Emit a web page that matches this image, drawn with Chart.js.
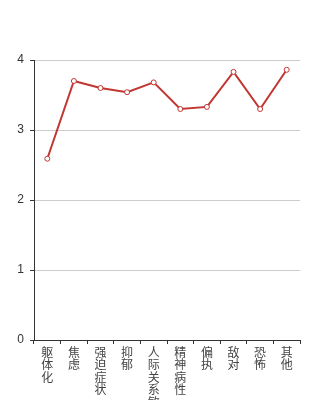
<!DOCTYPE html>
<html lang="zh">
<head>
<meta charset="utf-8">
<script src="https://cdn.jsdelivr.net/npm/chart.js@4/dist/chart.umd.min.js"></script>
<style>
  html, body { margin: 0; padding: 0; background: #fff; overflow: hidden; }
  #wrap { width: 334px; height: 400px; }
</style>
</head>
<body>
<div id="wrap"><canvas id="chart"></canvas></div>
<script>
"use strict";

// categories (SCL-90 factors) and mean scores
var categories = ['躯体化', '焦虑', '强迫症状', '抑郁', '人际关系敏感', '精神病性', '偏执', '敌对', '恐怖', '其他'];
var scores = [2.59, 3.70, 3.60, 3.54, 3.68, 3.30, 3.33, 3.83, 3.30, 3.86];
var yTicks = [0, 1, 2, 3, 4];

var red = '#c23531';
var dark = '#333';

// one character per line, like the vertical labels in the picture
var labels = categories.map(function (c) { return c.split(''); });

var ctx = document.getElementById('chart');
var lineChart = new Chart(ctx, {
  type: 'line',
  data: {
    labels: labels,
    datasets: [{
      data: scores,
      borderColor: red,
      borderWidth: 2,
      tension: 0,
      fill: false,
      pointRadius: 2.5,
      pointBorderWidth: 1,
      pointBackgroundColor: '#fff',
      pointBorderColor: red
    }]
  },
  options: {
    responsive: true,
    maintainAspectRatio: false,
    animation: false,
    layout: { padding: { top: 60, right: 34, left: 0, bottom: 0 } },
    plugins: { legend: { display: false }, tooltip: { enabled: false } },
    scales: {
      x: {
        offset: true,
        grid: {
          offset: true,
          drawOnChartArea: false,
          drawTicks: true,
          tickLength: 4,
          tickColor: dark
        },
        border: { color: dark, width: 1 },
        ticks: {
          maxRotation: 0,
          minRotation: 0,
          autoSkip: false,
          padding: 2,
          color: '#444',
          font: { family: '"Noto Sans CJK SC", sans-serif', size: 12, lineHeight: '12.5px' }
        },
        afterFit: function (s) { s.height = 60; }
      },
      y: {
        min: 0,
        max: 4,
        afterBuildTicks: function (s) {
          s.ticks = yTicks.map(function (v) { return { value: v }; });
        },
        grid: {
          color: '#ccc',
          lineWidth: 1,
          drawTicks: true,
          tickLength: 4,
          tickColor: dark
        },
        border: { color: dark, width: 1 },
        ticks: {
          padding: 6,
          color: dark,
          font: { family: '"Liberation Sans", Arial, sans-serif', size: 12 }
        },
        afterFit: function (s) { s.width = 34; }
      }
    }
  }
});
</script>
</body>
</html>
